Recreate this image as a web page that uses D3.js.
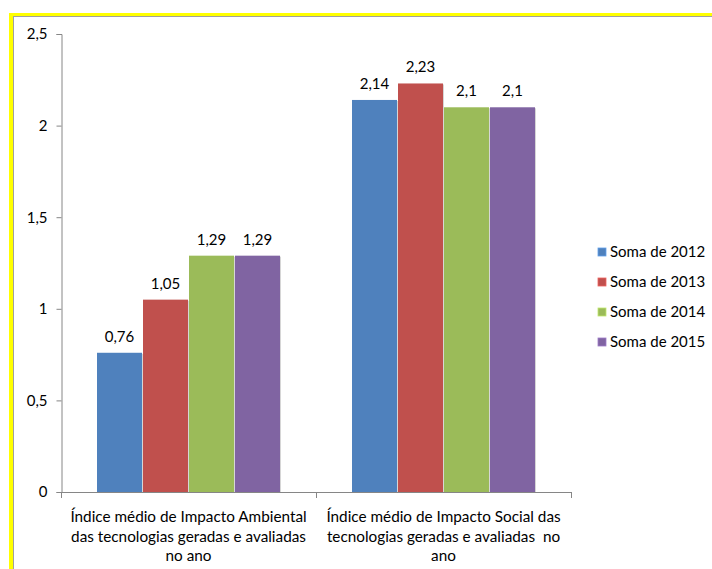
<!DOCTYPE html>
<html>
<head>
<meta charset="utf-8">
<script src="https://cdn.jsdelivr.net/npm/d3@7"></script>
<style>
  body { margin: 0; background: #fff; }
  svg { display: block; font-family: Lato, "Open Sans", sans-serif; }
</style>
</head>
<body>
<div id="chart"></div>
<script>
// chart data
const categories = [
  ["Índice médio de Impacto Ambiental", "das tecnologias geradas e avaliadas", "no ano"],
  ["Índice médio de Impacto Social das", "tecnologias geradas e avaliadas  no", "ano"]
];
const seriesNames = ["Soma de 2012", "Soma de 2013", "Soma de 2014", "Soma de 2015"];
const values2012 = [0.76, 2.14];
const values2013 = [1.05, 2.23];
const values2014 = [1.29, 2.1];
const values2015 = [1.29, 2.1];
const yTicks = [0, 0.5, 1, 1.5, 2, 2.5];
const colors = ["#4F81BD", "#C0504D", "#9BBB59", "#8064A2"];

const series = [values2012, values2013, values2014, values2015];
const fmt = v => String(v).replace(".", ",");

const width = 712, height = 569;
const svg = d3.select("#chart").append("svg")
  .attr("width", width)
  .attr("height", height);

// frame (yellow outer + gray inner)
svg.append("rect").attr("x", 9).attr("y", 13).attr("width", width).attr("height", 3).attr("fill", "#FFFF00");
svg.append("rect").attr("x", 9).attr("y", 13).attr("width", 4).attr("height", height).attr("fill", "#FFFF00");
svg.append("line").attr("x1", 13).attr("x2", width).attr("y1", 16.5).attr("y2", 16.5).attr("stroke", "#A0A0A0");
svg.append("line").attr("x1", 13.5).attr("x2", 13.5).attr("y1", 16).attr("y2", height).attr("stroke", "#A0A0A0");

// scales
const x0 = d3.scaleBand().domain(d3.range(categories.length)).range([61, 571]).paddingInner(0).paddingOuter(0);
const x1 = d3.scaleBand().domain(d3.range(series.length)).range([36, x0.bandwidth() - 35]);
const y = d3.scaleLinear().domain([0, 2.5]).range([492, 34]);

const axisColor = "#868686";

// y axis
const yAxis = svg.append("g").attr("transform", "translate(61.5,0)")
  .call(d3.axisLeft(y).tickValues(yTicks).tickFormat(fmt).tickSize(5).tickPadding(9));
yAxis.select(".domain").attr("stroke", axisColor);
yAxis.selectAll(".tick line").attr("stroke", axisColor);
yAxis.selectAll("text").attr("font-size", 15).attr("fill", "#000")
  .attr("font-family", "Lato, sans-serif");

// bars
const groups = svg.append("g").selectAll("g")
  .data(categories.map((c, i) => i))
  .join("g")
  .attr("transform", i => `translate(${x0(i)},0)`);

groups.each(function (ci) {
  const g = d3.select(this);
  series.forEach((vals, si) => {
    const bx = x1(si), bw = x1.bandwidth() - 1;
    // soft shadow on right side
    g.append("rect")
      .attr("x", bx + 1).attr("y", y(vals[ci]) + 1)
      .attr("width", bw).attr("height", y(0) - y(vals[ci]) - 1)
      .attr("fill", "#d6d6d6");
    g.append("rect")
      .attr("x", bx).attr("y", y(vals[ci]))
      .attr("width", bw).attr("height", y(0) - y(vals[ci]))
      .attr("fill", colors[si]);
    g.append("text")
      .attr("x", bx + bw / 2)
      .attr("y", y(vals[ci]) - 11)
      .attr("text-anchor", "middle")
      .attr("font-size", 15)
      .attr("fill", "#000")
      .text(fmt(vals[ci]));
  });
});

// x axis
const xAxisG = svg.append("g");
xAxisG.append("line").attr("x1", 61).attr("x2", 571).attr("y1", 492.5).attr("y2", 492.5).attr("stroke", axisColor);
[0, 1, 2].forEach(i => {
  const xx = Math.round(61 + i * x0.bandwidth()) + 0.5;
  xAxisG.append("line").attr("x1", xx).attr("x2", xx).attr("y1", 492).attr("y2", 498).attr("stroke", axisColor);
});

// category labels
categories.forEach((lines, i) => {
  const t = svg.append("text")
    .attr("text-anchor", "middle")
    .attr("font-size", 15.3)
    .attr("fill", "#000");
  lines.forEach((ln, k) => {
    t.append("tspan")
      .attr("x", x0(i) + x0.bandwidth() / 2)
      .attr("y", 522 + k * 19.5)
      .attr("xml:space", "preserve")
      .text(ln);
  });
});

// legend
const legend = svg.append("g").attr("transform", "translate(598,0)");
seriesNames.forEach((name, i) => {
  const ly = 252 + i * 30;
  legend.append("rect").attr("x", 0).attr("y", ly - 4).attr("width", 8).attr("height", 8)
    .attr("fill", colors[i]).attr("stroke", d3.color(colors[i]).brighter(0.6)).attr("stroke-width", 0.8);
  legend.append("text").attr("x", 12).attr("y", ly + 5)
    .attr("font-size", 15).attr("fill", "#000").text(name);
});
</script>
</body>
</html>
